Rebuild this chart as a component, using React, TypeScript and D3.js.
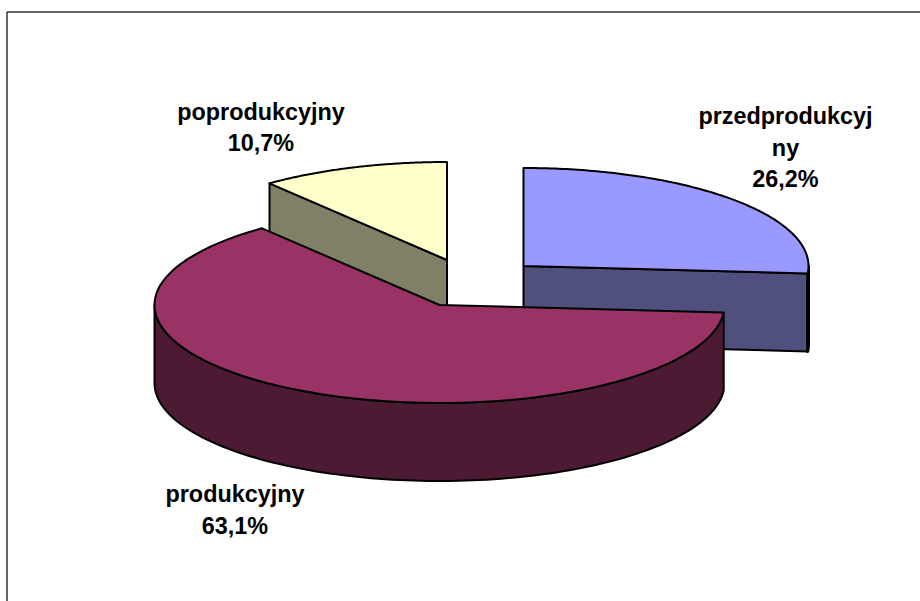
import React from "react";
import * as d3 from "d3";

const categories = ["przedprodukcyjny", "produkcyjny", "poprodukcyjny"];
const values = [26.2, 63.1, 10.7];
const topColors = ["#9999ff", "#993366", "#ffffcc"];
const wallColors = ["#50507f", "#4d1a33", "#808066"];
const labelLines = [
  ["przedprodukcyj", "ny", "26,2%"],
  ["produkcyjny", "63,1%"],
  ["poprodukcyjny", "10,7%"],
];

// chart layout
const rx = 285;
const ry = 98;
const depth = 78;
const centers: [number, number][] = [[523.5, 266], [439.5, 305], [447, 260]];
const labelPos: [number, number, number][] = [[785.5, 124, 31.5], [235, 502, 32], [261, 120, 31]];

const pie = d3.pie<number>().sort(null).startAngle(0).endAngle(2 * Math.PI);
const arcs = pie(values);

const pt = (c: [number, number], a: number, dy = 0): [number, number] => [
  c[0] + rx * Math.sin(a),
  c[1] - ry * Math.cos(a) + dy,
];
const line = d3.line();
const samples = (a0: number, a1: number) =>
  d3.range(0, 121).map((i) => a0 + ((a1 - a0) * i) / 120);

const topPath = (i: number) => {
  const c = centers[i];
  const rim = samples(arcs[i].startAngle, arcs[i].endAngle).map((a) => pt(c, a));
  return line([c, ...rim]) + "Z";
};

// radial cut walls visible to the viewer, and the outer rim facing down
const cutWall = (i: number, a: number) => {
  const c = centers[i];
  const p = pt(c, a);
  return line([c, p, [p[0], p[1] + depth], [c[0], c[1] + depth]]) + "Z";
};
const rimWall = (i: number, a0: number, a1: number) => {
  const c = centers[i];
  const ang = samples(a0, a1);
  const top = ang.map((a) => pt(c, a));
  const bot = ang.map((a) => pt(c, a, depth)).reverse();
  return line([...top, ...bot]) + "Z";
};

export default function App() {
  const stroke = { stroke: "#000", strokeWidth: 2, strokeLinejoin: "round" as const };
  return (
    <svg
      width={920}
      height={601}
      style={{ position: "absolute", left: 0, top: 0, background: "#fff" }}
      fontFamily="'Liberation Sans', Arial, sans-serif"
    >
      <line x1={7} y1={12} x2={920} y2={12} stroke="#333" strokeWidth={1.5} />
      <line x1={7} y1={12} x2={7} y2={601} stroke="#000" strokeWidth={1.2} />

      {/* poprodukcyjny */}
      <path d={cutWall(2, arcs[2].startAngle)} fill={wallColors[2]} {...stroke} />
      <path d={topPath(2)} fill={topColors[2]} {...stroke} />

      {/* przedprodukcyjny */}
      <path d={cutWall(0, arcs[0].endAngle)} fill={wallColors[0]} {...stroke} />
      <path d={rimWall(0, Math.PI / 2, arcs[0].endAngle)} fill="#000" {...stroke} strokeWidth={3} />
      <path d={topPath(0)} fill={topColors[0]} {...stroke} />

      {/* produkcyjny */}
      <path d={rimWall(1, arcs[1].startAngle, (3 * Math.PI) / 2)} fill={wallColors[1]} {...stroke} />
      <path d={topPath(1)} fill={topColors[1]} {...stroke} />

      {categories.map((name, i) => (
        <text key={name} textAnchor="middle" fontWeight="bold" fontSize={23.4} fill="#000">
          {labelLines[i].map((t, j) => (
            <tspan key={j} x={labelPos[i][0]} y={labelPos[i][1] + j * labelPos[i][2]}>
              {t}
            </tspan>
          ))}
        </text>
      ))}
    </svg>
  );
}
